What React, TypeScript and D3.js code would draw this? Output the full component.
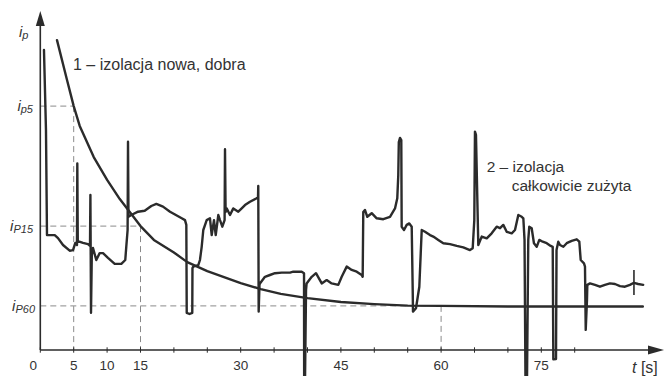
import React from "react";
import * as d3 from "d3";

// Curve 1 – new, good insulation: [t (s), current (arb. units)]
const curveNew: [number, number][] = [
  [2.5, 103.3], [4.0, 90], [5.0, 81.3], [5.9, 74.7], [8.0, 64.3], [10, 56.7],
  [11.9, 50.3], [15, 41.3], [17, 36.7], [20, 32.5], [22, 29.3], [25, 26.3],
  [30, 22.3], [33, 20.3], [36, 18.7], [40, 17.3], [45, 16], [50, 15.3],
  [55, 14.8], [60, 14.7], [70, 14.5], [90.2, 14.5],
];

// Curve 2 – completely worn insulation
const curveWorn: [number, number][] = [
  [0.55, 100], [0.85, 73.3], [1.0, 38.3], [2.16, 38.3], [2.65, 37.3], [3.4, 35],
  [4.4, 33.1], [4.9, 33.3], [5.24, 35.7], [5.49, 35], [5.54, 62.2], [5.61, 36.3],
  [6.39, 35.7], [7.14, 35.3], [7.44, 34.7], [7.5, 51.7], [7.59, 12.4], [7.71, 31.7],
  [7.89, 34], [8.38, 30], [8.89, 32.3], [9.39, 32.3], [10.13, 30.7], [11.14, 28.7],
  [12.13, 28.7], [12.72, 30], [12.87, 34.4], [13.07, 40], [13.13, 69.4], [13.2, 44.4],
  [13.62, 45], [14.63, 46.1], [15.63, 46.4], [16.62, 48], [17.37, 48.7], [18.37, 47.8],
  [19.42, 46.1], [21.17, 43.9], [21.66, 43.3], [21.86, 41.7], [21.92, 12.4], [22.34, 12],
  [22.75, 12.4], [22.78, 27.3], [22.9, 27.8], [23.65, 28.3], [23.9, 30], [24.16, 34.4],
  [24.4, 40], [24.91, 43.3], [25.4, 43.9], [25.66, 38.3], [26, 43.3], [26.26, 38.3],
  [26.65, 45], [26.9, 43.3], [27.25, 41.1], [27.59, 43.3], [27.65, 66.9], [27.74, 46],
  [27.9, 47.2], [28.4, 45], [28.89, 47.2], [29.64, 46.1], [30.15, 47.2], [30.64, 48.3],
  [31.39, 49.4], [32.4, 50.6], [32.59, 51], [32.63, 54.7], [32.69, 12.8], [32.81, 21.7],
  [32.88, 22.2], [33.63, 24.4], [34.38, 25], [35.13, 25.6], [36.14, 25.8], [37.38, 25.8],
  [37.87, 26.1], [39.13, 26.1], [39.48, 25.6], [39.5, -10], [39.63, -10], [39.78, 20],
  [39.87, 22.2], [40.63, 24.4], [41.27, 25.6], [42.13, 22.2], [42.87, 23.3], [43.62, 22.2],
  [44.61, 21.7], [45.12, 24.4], [45.87, 27.8], [46.62, 26.7], [47.37, 26.1], [48.11, 25],
  [48.26, 24.4], [48.35, 46], [48.6, 46.7], [48.95, 44.4], [49.61, 45.6], [50.36, 43.9],
  [51.35, 43.6], [52.35, 44.4], [53.1, 47.2], [53.44, 50.6], [53.59, 58.3], [53.67, 69.3],
  [53.85, 70.7], [54.04, 70], [54.1, 41.1], [54.45, 40], [54.85, 41.7], [55.24, 42.2],
  [55.6, 41.1], [55.75, 20], [55.79, 12.8], [56.24, 13.9], [56.74, 21.1], [56.95, 32.2],
  [57.1, 40], [57.59, 39.4], [58.34, 38.3], [58.83, 37.8], [59.58, 36.7], [60.33, 35.6],
  [61.33, 35.3], [62.34, 34.7], [63.32, 34.2], [64.32, 33.3], [64.73, 33.9], [64.97, 43.3],
  [65.07, 72.8], [65.22, 71.7], [65.57, 35], [66.08, 37.8], [66.83, 37.2], [67.57, 38.9],
  [68.32, 41.1], [68.82, 40.6], [69.31, 41.7], [69.82, 39.4], [70.57, 38.9], [71.06, 40],
  [71.56, 45], [72.07, 44.4], [72.31, 43.9], [72.49, 36.7], [72.63, -10], [72.86, -10],
  [73.05, 36.7], [73.2, 41.1], [73.56, 40.6], [73.9, 35.6], [74.31, 34.4], [74.7, 36.7],
  [75.21, 36.1], [75.81, 35.6], [76.41, 34.7], [76.71, 34.4], [76.8, -3.1], [77.2, -3],
  [77.28, 33.3], [77.54, 36.1], [77.8, 35], [78.3, 34.4], [78.8, 35.6], [79.55, 36.4],
  [80.3, 36.9], [80.69, 36.1], [80.9, 30], [81.39, 28.9], [81.54, 27.8], [81.65, 6.7],
  [81.84, 16.7], [81.89, 21.7], [82.29, 22.2], [83.04, 21.7], [83.78, 21.1], [84.53, 21.7],
  [85.28, 22.2], [86.03, 22], [86.78, 21.3], [87.52, 21.1], [88.27, 21.7], [88.87, 22.4],
  [89.5, 22], [90.25, 21.7],
];

// small vertical marker at the end of curve 2
const markerWorn: [number, number][] = [[88.87, 26.7], [88.87, 18.3]];

// reference levels (i_p5, i_P15, i_P60) at t = 5, 15, 60 s
const refTimes = [5, 15, 60];
const refValues = [81.3, 41.3, 14.7];
const refSubs = ["p5", "P15", "P60"];

const xTicks = d3.range(0, 81, 5);
const xTickLabels = [0, 5, 10, 15, 30, 45, 60, 75];

const W = 665;
const H = 376;

export default function App() {
  const x = d3.scaleLinear().domain([0, 90]).range([40.3, 641.5]);
  const y = d3.scaleLinear().domain([0, 100]).range([350, 50]);
  const line = d3
    .line<[number, number]>()
    .x((d) => x(d[0]))
    .y((d) => y(d[1]))
    .curve(d3.curveLinear);

  const x0 = x(0);
  const y0 = y(0);
  const font = "'Liberation Sans', Arial, Helvetica, sans-serif";
  const ink = "#2b2b2b";
  const textCol = "#333";

  return (
    <svg
      width={W}
      height={H}
      style={{ position: "absolute", left: 0, top: 0, background: "#fff" }}
      fontFamily={font}
    >
      {/* dashed reference lines */}
      {refTimes.map((t, i) => (
        <g key={"ref" + i} stroke="#8a8a8a" strokeWidth={1} strokeDasharray="6,4" fill="none">
          <line x1={x0} x2={x(t)} y1={y(refValues[i])} y2={y(refValues[i])} />
          <line x1={x(t)} x2={x(t)} y1={y(refValues[i])} y2={y0} />
        </g>
      ))}

      {/* curves */}
      <path d={line(curveNew) || ""} fill="none" stroke={ink} strokeWidth={2.4} strokeLinejoin="round" strokeLinecap="round" />
      <path d={line(curveWorn) || ""} fill="none" stroke={ink} strokeWidth={2.4} strokeLinejoin="round" strokeLinecap="round" />
      <path d={line(markerWorn) || ""} fill="none" stroke={ink} strokeWidth={1.6} />

      {/* axes */}
      <line x1={x0} x2={x0} y1={y0} y2={24} stroke={ink} strokeWidth={1.6} />
      <path d={`M${x0},11 L${x0 - 4.5},26 L${x0 + 4.5},26 Z`} fill={ink} />
      <line x1={x0} x2={650} y1={y0} y2={y0} stroke={ink} strokeWidth={1.6} />
      <path d={`M664,${y0} L648,${y0 - 4.5} L648,${y0 + 4.5} Z`} fill={ink} />

      {xTicks.map((t) => (
        <line key={"tk" + t} x1={x(t)} x2={x(t)} y1={y0 - 2.7} y2={y0 + 2.7} stroke={ink} strokeWidth={1} />
      ))}
      {xTickLabels.map((t) => (
        <text
          key={"tl" + t}
          x={t === 0 ? x(t) - 7 : x(t)}
          y={370}
          textAnchor="middle"
          fontSize={13.5}
          fill={textCol}
        >
          {t}
        </text>
      ))}

      {/* axis titles */}
      <text x={19} y={37} fontSize={15} fill={textCol}>
        <tspan fontStyle="italic">i</tspan>
        <tspan fontStyle="italic" fontSize={11} dy={2}>p</tspan>
      </text>
      <text x={632} y={373} fontSize={16} fill={textCol}>
        <tspan fontStyle="italic">t</tspan>
        <tspan> [s]</tspan>
      </text>

      {/* reference labels */}
      {refValues.map((v, i) => (
        <text key={"rl" + i} x={i === 2 ? 35 : 33} y={y(v) + 5} textAnchor="end" fontSize={15} fill={textCol}>
          <tspan fontStyle="italic">i</tspan>
          <tspan fontStyle="italic" fontSize={11} dy={2}>{refSubs[i]}</tspan>
        </text>
      ))}

      {/* curve labels */}
      <text x={73} y={69.5} fontSize={16} fill={textCol}>1 – izolacja nowa, dobra</text>
      <text x={486.7} y={171.5} fontSize={15.5} fill={textCol}>2 – izolacja</text>
      <text x={511.7} y={190.5} fontSize={15.5} fill={textCol}>całkowicie zużyta</text>
    </svg>
  );
}
